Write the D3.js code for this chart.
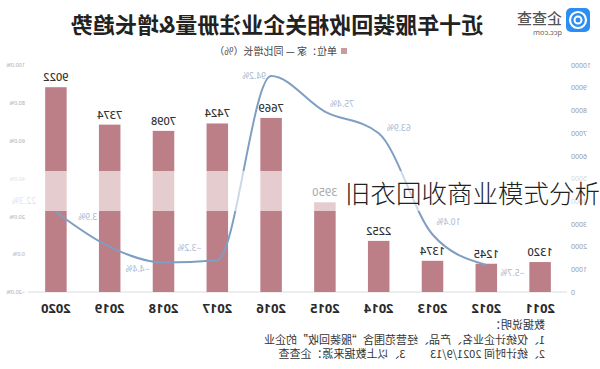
<!DOCTYPE html>
<html><head><meta charset="utf-8">
<script src="https://cdn.jsdelivr.net/npm/d3@7/dist/d3.min.js"></script>
<style>
html,body{margin:0;padding:0;background:#fff;}
svg{display:block;font-family:"Noto Sans CJK SC","Noto Sans",sans-serif;}
</style></head>
<body>
<svg id="c" width="600" height="369"></svg>
<script>
const years = ["2011","2012","2013","2014","2015","2016","2017","2018","2019","2020"];
const counts = [1320,1245,1374,2252,3950,7669,7424,7098,7374,9022];
const growthYears = ["2012","2013","2014","2015","2016","2017","2018","2019","2020"];
const growth = [-5.7,10.4,63.9,75.4,94.2,-3.2,-4.4,3.9,22.3];
const countTicks = [0,1000,2000,3000,4000,5000,6000,7000,8000,9000,10000];
const pctTicks = [-20,0,20,40,60,80,100];
const titleText = "近十年服装回收相关企业注册量&增长趋势";
const legendText = "单位：家 — 同比增长（%）";
const notes = ["数据说明：","1、仅统计企业名、产品、经营范围含“服装回收”的企业","2、统计时间 2021/9/13　　 3、以上数据来源：企查查"];
const overlayText = "旧衣回收商业模式分析";
// label offsets (layout)
const labelOffsets = [[-26,8],[-16,-12],[-20,-5],[-17,-8],[17,0],[28,-12],[26,7],[22,-30],[32,-11]];

const svg = d3.select("#c");
const g = svg.append("g").attr("transform","translate(600,0) scale(-1,1)");

const x = d3.scaleBand().domain(years).range([33,571]).paddingInner(0.6).paddingOuter(0.3);
const y = d3.scaleLinear().domain([0,10000]).range([292,65]);
const yp = d3.scaleLinear().domain([-20,100]).range([292,65]);

// left axis (counts)
const ax = g.append("g").attr("transform","translate(29,0)")
  .call(d3.axisLeft(y).tickValues(countTicks).tickSize(0).tickPadding(0).tickFormat(d3.format("d")));
ax.select(".domain").remove();
ax.selectAll("text").attr("fill","#9a9a9a").style("font-size","7px").attr("font-family","Noto Sans, sans-serif");

// right axis (percent)
const ap = g.append("g").attr("transform","translate(575,0)")
  .call(d3.axisRight(yp).tickValues(pctTicks).tickSize(0).tickPadding(0).tickFormat(d => d3.format(".1f")(d)+"%"));
ap.select(".domain").remove();
ap.selectAll("text").attr("fill","#aaaaaa").style("font-size","5.5px").attr("font-family","Noto Sans, sans-serif");

// baseline
g.append("line").attr("x1",33).attr("x2",572).attr("y1",y(0)).attr("y2",y(0)).attr("stroke","#dcdcdc").attr("stroke-width",1);

// bars
g.selectAll("rect.bar").data(counts).join("rect").attr("class","bar")
  .attr("x",(d,i)=>x(years[i])).attr("width",x.bandwidth())
  .attr("y",d=>y(d)).attr("height",d=>y(0)-y(d)).attr("fill","#bd7f87");

// bar labels
g.selectAll("text.bl").data(counts).join("text").attr("class","bl")
  .attr("x",(d,i)=>x(years[i])+x.bandwidth()/2).attr("y",d=>y(d)-6)
  .attr("text-anchor","middle").attr("fill","#333").style("font-size","11px").style("font-weight","500")
  .attr("font-family","Noto Sans, sans-serif").text(d=>d);

// year axis labels
g.selectAll("text.yr").data(years).join("text").attr("class","yr")
  .attr("x",d=>x(d)+x.bandwidth()/2).attr("y",313)
  .attr("text-anchor","middle").attr("fill","#2a2a2a").style("font-size","13px").style("font-weight","700")
  .attr("font-family","Noto Sans, sans-serif").text(d=>d);

// line
const line = d3.line().x((d,i)=>x(growthYears[i])+x.bandwidth()/2).y(d=>yp(d)).curve(d3.curveMonotoneX);
g.append("path").datum(growth).attr("d",line).attr("fill","none").attr("stroke","#7f9ec3").attr("stroke-width",2);

g.selectAll("text.gl").data(growth).join("text").attr("class","gl")
  .attr("x",(d,i)=>x(growthYears[i])+x.bandwidth()/2+labelOffsets[i][0])
  .attr("y",(d,i)=>yp(d)+labelOffsets[i][1]+3)
  .attr("text-anchor","middle").attr("fill","#a9b8d0").style("font-size","8.5px")
  .attr("font-family","Noto Sans, sans-serif").text(d=>d3.format(".1f")(d)+"%");

// title
g.append("text").attr("x",323).attr("y",33).attr("text-anchor","middle")
  .attr("fill","#222").style("font-size","22px").style("font-weight","700").text(titleText);

// logo
g.append("rect").attr("x",10).attr("y",8).attr("width",24).attr("height",24).attr("rx",5).attr("fill","#2b8ef0");
g.append("circle").attr("cx",22).attr("cy",20).attr("r",8).attr("fill","none").attr("stroke","#fff").attr("stroke-width",2.2);
g.append("circle").attr("cx",22).attr("cy",20).attr("r",3.5).attr("fill","none").attr("stroke","#fff").attr("stroke-width",2);
g.append("text").attr("x",38).attr("y",24).attr("fill","#555").style("font-size","15px").style("font-weight","500").text("企查查");
g.append("text").attr("x",38).attr("y",35).attr("fill","#666").style("font-size","7.5px").attr("font-family","Noto Sans, sans-serif").text("qcc.com");

// legend
g.append("rect").attr("x",253).attr("y",48).attr("width",6).attr("height",6).attr("fill","#c99aa0");
g.append("text").attr("x",263).attr("y",55).attr("fill","#444").style("font-size","10px").text(legendText);

// notes
g.selectAll("text.note").data(notes).join("text").attr("class","note")
  .attr("x",55).attr("y",(d,i)=>329+i*14.5).attr("fill","#333").style("font-size","11px").text(d=>d);

// white band + overlay (not mirrored)
svg.append("rect").attr("x",0).attr("y",171).attr("width",600).attr("height",40).attr("fill","#fff").attr("opacity",0.6);
svg.append("text").attr("x",345).attr("y",203).attr("fill","#222").style("font-size","25.5px").style("font-weight","300").text(overlayText);
</script>
</body></html>
